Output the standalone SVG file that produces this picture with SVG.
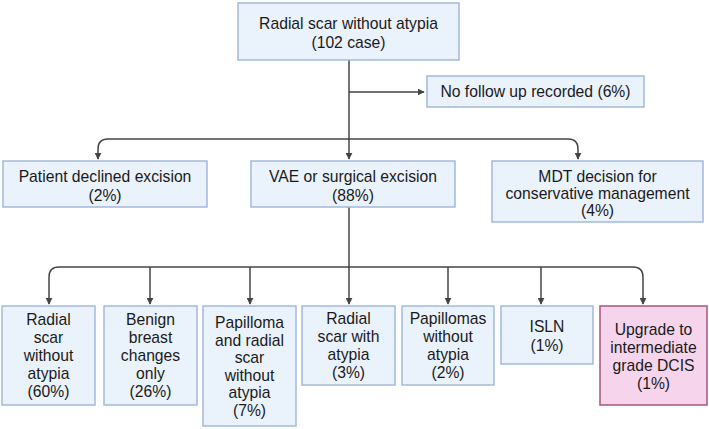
<svg xmlns="http://www.w3.org/2000/svg" width="709" height="429" viewBox="0 0 709 429">
<style>
.box{fill:#eaf2fc;stroke:#a3b9dc;stroke-width:1.5}
.pink{fill:#f6d5ec;stroke:#a9557f;stroke-width:1.5}
text{font-family:"Liberation Sans",Arial,sans-serif;font-size:15.7px;fill:#1a1a1a;text-anchor:middle}
.c{fill:none;stroke:#444;stroke-width:1.5}
</style>
<defs>
<marker id="ah" viewBox="0 0 10 10" refX="9" refY="5" markerWidth="7" markerHeight="7" markerUnits="userSpaceOnUse" orient="auto">
<path d="M0,0 L10,5 L0,10 z" fill="#444"/>
</marker>
</defs>
<g id="connectors">
<path class="c" d="M349,60 V159" marker-end="url(#ah)"/>
<path class="c" d="M349,92 H424" marker-end="url(#ah)"/>
<path class="c" d="M349,139 H108 Q98,139 98,149 V159" marker-end="url(#ah)"/>
<path class="c" d="M349,139 H568 Q578,139 578,149 V159" marker-end="url(#ah)"/>
<path class="c" d="M349,207 V304" marker-end="url(#ah)"/>
<path class="c" d="M349,267 H59 Q49,267 49,277 V304" marker-end="url(#ah)"/>
<path class="c" d="M349,267 H633 Q643,267 643,277 V304" marker-end="url(#ah)"/>
<path class="c" d="M150,267 V304" marker-end="url(#ah)"/>
<path class="c" d="M250,267 V304" marker-end="url(#ah)"/>
<path class="c" d="M448,267 V304" marker-end="url(#ah)"/>
<path class="c" d="M541,267 V304" marker-end="url(#ah)"/>
</g>
<g id="root">
<rect class="box" x="238" y="3" width="221" height="57"/>
<text x="348.5" y="29">Radial scar without atypia</text>
<text x="348.5" y="48">(102 case)</text>
</g>
<g id="nofollow">
<rect class="box" x="427" y="76" width="217" height="31"/>
<text x="535.5" y="97">No follow up recorded (6%)</text>
</g>
<g id="declined">
<rect class="box" x="3" y="161" width="204" height="46"/>
<text x="105" y="182">Patient declined excision</text>
<text x="105" y="201">(2%)</text>
</g>
<g id="vae">
<rect class="box" x="251" y="161" width="204" height="46"/>
<text x="353" y="182">VAE or surgical excision</text>
<text x="353" y="201">(88%)</text>
</g>
<g id="mdt">
<rect class="box" x="492" y="161" width="211" height="61"/>
<text x="597.5" y="182">MDT decision for</text>
<text x="597.5" y="199">conservative management</text>
<text x="597.5" y="216">(4%)</text>
</g>
<g id="b1">
<rect class="box" x="2" y="306" width="93" height="99"/>
<text x="48.5" y="325">Radial</text>
<text x="48.5" y="343">scar</text>
<text x="48.5" y="361">without</text>
<text x="48.5" y="379">atypia</text>
<text x="48.5" y="397">(60%)</text>
</g>
<g id="b2">
<rect class="box" x="104" y="306" width="93" height="99"/>
<text x="150.5" y="325">Benign</text>
<text x="150.5" y="343">breast</text>
<text x="150.5" y="361">changes</text>
<text x="150.5" y="379">only</text>
<text x="150.5" y="397">(26%)</text>
</g>
<g id="b3">
<rect class="box" x="203" y="306" width="93" height="120"/>
<text x="249.5" y="328">Papilloma</text>
<text x="249.5" y="345.5">and radial</text>
<text x="249.5" y="363">scar</text>
<text x="249.5" y="380.5">without</text>
<text x="249.5" y="398">atypia</text>
<text x="249.5" y="416">(7%)</text>
</g>
<g id="b4">
<rect class="box" x="302" y="306" width="93" height="79"/>
<text x="348.5" y="324">Radial</text>
<text x="348.5" y="342">scar with</text>
<text x="348.5" y="360">atypia</text>
<text x="348.5" y="378">(3%)</text>
</g>
<g id="b5">
<rect class="box" x="402" y="306" width="92" height="79"/>
<text x="448" y="324">Papillomas</text>
<text x="448" y="342">without</text>
<text x="448" y="360">atypia</text>
<text x="448" y="378">(2%)</text>
</g>
<g id="b6">
<rect class="box" x="501" y="306" width="92" height="58"/>
<text x="547" y="332">ISLN</text>
<text x="547" y="351">(1%)</text>
</g>
<g id="b7">
<rect class="pink" x="600" y="306" width="107" height="99"/>
<text x="653.5" y="335">Upgrade to</text>
<text x="653.5" y="353">intermediate</text>
<text x="653.5" y="371">grade DCIS</text>
<text x="653.5" y="389">(1%)</text>
</g>
</svg>
